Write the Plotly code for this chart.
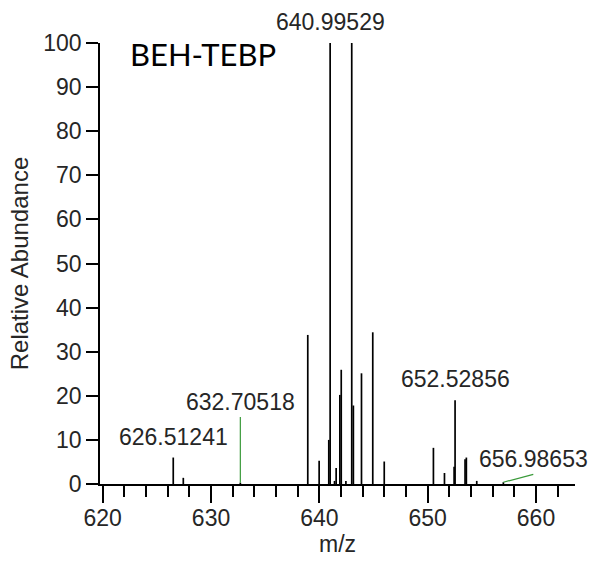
import plotly.graph_objects as go

# Centroided peaks: m/z and relative abundance (%)
mz = [626.51241, 627.44, 632.70518, 638.93, 639.98, 640.87, 640.99529, 641.40,
      641.55, 641.89, 642.02, 642.45, 642.99, 643.14, 643.89, 644.93, 645.99,
      650.53, 651.55, 652.44, 652.52856, 653.45, 653.57, 654.53, 656.98653]
abundance = [6.0, 1.4, 0.3, 33.8, 5.3, 10.0, 100.0, 0.7,
             3.6, 20.2, 25.9, 0.7, 100.0, 17.8, 25.1, 34.4, 5.1,
             8.2, 2.5, 3.9, 19.0, 5.6, 6.0, 0.7, 0.4]

# Peaks carrying an m/z label directly above the stem
direct_labels = [626.51241, 640.99529, 652.52856]
# Peaks whose label is moved off the stem and tied to it by a green leader
offset_labels = [632.70518, 656.98653]

x_ticks = [620, 630, 640, 650, 660]
y_ticks = [0, 10, 20, 30, 40, 50, 60, 70, 80, 90, 100]

FONT = "Liberation Sans, Arial, sans-serif"
TEXT = "#262626"

# stems as one broken polyline
sx, sy = [], []
for m, a in zip(mz, abundance):
    sx += [m, m, None]
    sy += [0, a, None]

fig = go.Figure()
fig.add_trace(go.Scatter(x=sx, y=sy, mode="lines",
                         line=dict(color="black", width=1.7),
                         hoverinfo="skip", cliponaxis=False,
                         showlegend=False))

annotations = []
for m in direct_labels:
    a = abundance[mz.index(m)]
    annotations.append(dict(x=m, y=a, xref="x", yref="y", text=f"{m:.5f}",
                            showarrow=False, xanchor="center", yanchor="bottom",
                            yshift=6, font=dict(family=FONT, size=23, color=TEXT)))

# leader end points (data units) and label anchors for the moved labels
leader_ends = {632.70518: (632.70518, 15.2), 656.98653: (659.75, 2.2)}
shapes = []
for m in offset_labels:
    a = abundance[mz.index(m)]
    ex, ey = leader_ends[m]
    shapes.append(dict(type="line", xref="x", yref="y", x0=m, y0=a, x1=ex, y1=ey,
                       line=dict(color="#3a9a3a", width=1.2)))
    annotations.append(dict(x=ex, y=ey, xref="x", yref="y", text=f"{m:.5f}",
                            showarrow=False, xanchor="center", yanchor="bottom",
                            yshift=0, font=dict(family=FONT, size=23, color=TEXT)))

# sample name, positioned in pixels and converted to paper units below
annotations.append(dict(x=128, y=562 - 54, xref="paper", yref="paper",
                        text="BEH-TEBP", showarrow=False,
                        xanchor="left", yanchor="middle",
                        font=dict(family="Lato, sans-serif", size=31, color="black")))

fig.update_layout(
    width=595, height=562,
    margin=dict(l=100, r=20, t=43, b=78),
    paper_bgcolor="white", plot_bgcolor="white",
    font=dict(family=FONT, size=23, color=TEXT),
    annotations=annotations,
    shapes=shapes,
    xaxis=dict(range=[619.75, 663.6], tickvals=x_ticks,
               ticks="outside", ticklen=17, tickwidth=1.5, tickcolor="black",
               ticklabelstandoff=-4,
               minor=dict(dtick=2, tick0=620, ticks="outside", ticklen=11,
                          tickwidth=1.5, tickcolor="black"),
               showline=True, linecolor="black", linewidth=1.5,
               showgrid=False, zeroline=False,
               title=dict(text="m/z", font=dict(size=23), standoff=0)),
    yaxis=dict(range=[0, 100], tickvals=y_ticks,
               ticks="outside", ticklen=12, tickwidth=1.5, tickcolor="black",
               showline=True, linecolor="black", linewidth=1.5,
               showgrid=False, zeroline=False,
               title=dict(text="Relative Abundance", font=dict(size=24), standoff=8)),
)

# annotations placed in paper units need pixel -> paper conversion
for ann in fig.layout.annotations:
    if ann.xref == "paper":
        w = 595 - 100 - 20
        h = 562 - 43 - 78
        ann.x = (ann.x - 100) / w
        ann.y = (ann.y - 78) / h

fig.write_html("out.html")
